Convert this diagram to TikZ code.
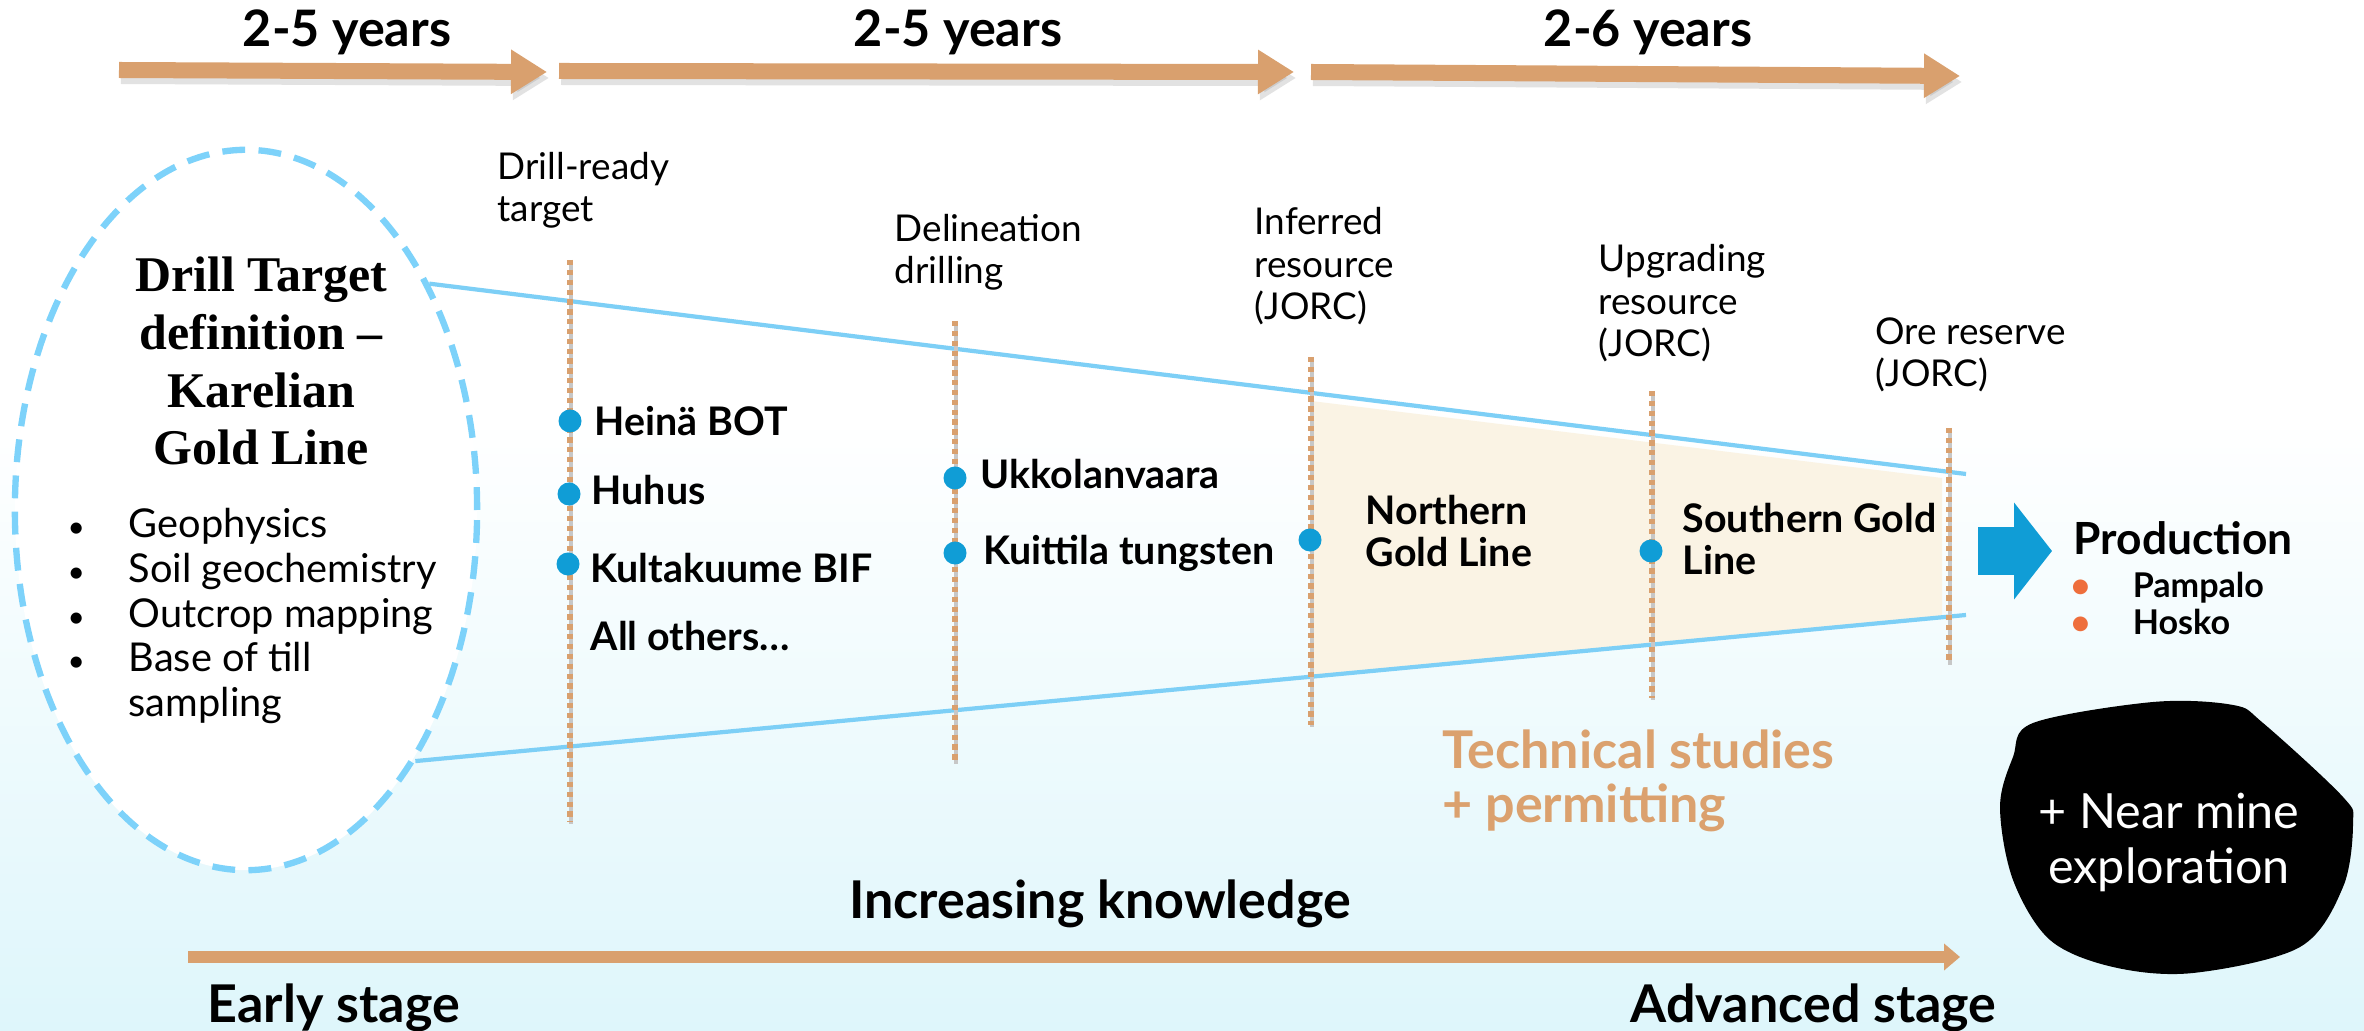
\documentclass[tikz,border=0pt]{standalone}
\usepackage{fontspec}
\newfontfamily\lato{Lato}
\newfontfamily\libserif{Liberation Serif}
\usetikzlibrary{arrows.meta,shapes.geometric}
\definecolor{tan}{RGB}{217,160,110}
\definecolor{lblue}{RGB}{125,207,246}
\definecolor{ellblue}{RGB}{125,210,250}
\definecolor{dotblue}{RGB}{16,157,214}
\definecolor{beige}{RGB}{250,243,228}
\definecolor{bgc}{RGB}{222,246,251}
\definecolor{bulor}{RGB}{238,110,60}
\definecolor{techor}{RGB}{219,161,110}
\newcommand{\smbul}{{\fontsize{8.5}{8.5}\selectfont\textbullet}}
\tikzset{
  yrs/.style={font=\lato\bfseries\fontsize{14.3}{16}\selectfont, anchor=base, inner sep=0},
  stagelab/.style={font=\lato\fontsize{10.5}{12.2}\selectfont, align=left, anchor=base west, inner sep=0},
  itemlab/.style={font=\lato\bfseries\fontsize{11.2}{12.1}\selectfont, align=left, anchor=base west, inner sep=0},
  bigtxt/.style={font=\lato\bfseries\fontsize{14.8}{15.1}\selectfont, inner sep=0},
  bdot/.style={circle, fill=dotblue, minimum size=0.23cm, inner sep=0},
  milestone/.style={draw=tan, line width=1.6pt, dash pattern=on 1.5pt off 1.3pt},
  mshadow/.style={draw=black!22, line width=1.4pt, transform canvas={xshift=0.01cm, yshift=-0.015cm}},
  blueline/.style={draw=lblue, line width=1.2pt},
  toparrow/.style={draw=tan, line width=0.16cm, -{Triangle[length=0.36cm,width=0.42cm]}},
  arrshadow/.style={draw=black!45, opacity=0.25, line width=0.16cm, -{Triangle[length=0.36cm,width=0.42cm]}, transform canvas={xshift=0.02cm, yshift=-0.06cm}},
}
\begin{document}
\begin{tikzpicture}[x=0.01cm,y=-0.01cm]
\useasboundingbox (0,0) rectangle (2364,1031);
% background
\fill[white] (0,0) rectangle (2364,1031);
\shade[top color=white, bottom color=bgc] (0,420) rectangle (2364,1031);

% coordinates
\coordinate (a1s) at (119,70);  \coordinate (a1e) at (547,72);
\coordinate (a2s) at (559,71);  \coordinate (a2e) at (1294,72);
\coordinate (a3s) at (1311,72); \coordinate (a3e) at (1960,76);
\coordinate (d1t) at (570,260);  \coordinate (d1b) at (570,822);
\coordinate (d2t) at (955,321);  \coordinate (d2b) at (955,762);
\coordinate (d3t) at (1311,357); \coordinate (d3b) at (1311,725);
\coordinate (d4t) at (1652,391); \coordinate (d4b) at (1652,698);
\coordinate (d5t) at (1949,428); \coordinate (d5b) at (1949,663);
\coordinate (upR) at (1966,474);
\coordinate (loR) at (1966,615);
\coordinate (pa1) at (1978,551); \coordinate (pa2) at (2052,551);
\coordinate (ka1) at (188,957);  \coordinate (ka2) at (1960,957);

% top arrows
\draw[arrshadow] (a1s) -- (a1e);
\draw[arrshadow] (a2s) -- (a2e);
\draw[arrshadow] (a3s) -- (a3e);
\draw[toparrow] (a1s) -- (a1e);
\draw[toparrow] (a2s) -- (a2e);
\draw[toparrow] (a3s) -- (a3e);
\node[yrs] (yr1) at (347,47) {2-5 years};
\node[yrs] (yr2) at (958,47) {2-5 years};
\node[yrs] (yr3) at (1648,47) {2-6 years};

% beige zone
\fill[beige] (1311,401) -- (1942,478) -- (1942,617) -- (1311,676) -- cycle;

% ellipse
\node[ellipse, draw=ellblue, fill=white, line width=1.8pt, dash pattern=on 6.5pt off 3.8pt,
      minimum width=4.62cm, minimum height=7.2cm, inner sep=0] (ell) at (246,510) {};
\node[font=\libserif\bfseries\fontsize{14.2}{16.4}\selectfont, align=center, anchor=base, inner sep=0]
  (title) at (261,465) {Drill Target\\definition –\\Karelian\\Gold Line};
\node[font=\lato\fontsize{11.3}{12.66}\selectfont, anchor=base west, inner sep=0] (methods) at (67,538)
  {\begin{tabular}[t]{@{}p{0.61cm}@{}l@{}}
   \smbul & Geophysics\\
   \smbul & Soil geochemistry\\
   \smbul & Outcrop mapping\\
   \smbul & Base of till\\
          & sampling
   \end{tabular}};

% blue funnel lines
\draw[blueline] (ell.51) -- (upR);
\draw[blueline] (ell.-56) -- (loR);

% milestone dotted lines
\foreach \i in {1,...,5} {
  \draw[mshadow] (d\i t) -- (d\i b);
  \draw[milestone] (d\i t) -- (d\i b);
}

% stage labels (anchored at the baseline of the last line)
\node[stagelab] (s1) at (497,222) {Drill-ready\\target};
\node[stagelab] (s2) at (894,284) {Delineation\\drilling};
\node[stagelab] (s3) at (1254,320) {Inferred\\resource\\(JORC)};
\node[stagelab] (s4) at (1598,357) {Upgrading\\resource\\(JORC)};
\node[stagelab] (s5) at (1875,387) {Ore reserve\\(JORC)};

% dots and items
\node[bdot] (p1) at (570,421) {};
\node[bdot] (p2) at (569,494) {};
\node[bdot] (p3) at (568,564) {};
\node[bdot] (p4) at (955,478) {};
\node[bdot] (p5) at (955,553) {};
\node[bdot] (p6) at (1310,540) {};
\node[bdot] (p7) at (1651,551) {};
\node[itemlab] (t1) at (594,436) {Heinä BOT};
\node[itemlab] (t2) at (591,505) {Huhus};
\node[itemlab] (t3) at (590,583) {Kultakuume BIF};
\node[itemlab] (t4) at (590,650) {All others…};
\node[itemlab] (t5) at (980,489) {Ukkolanvaara};
\node[itemlab] (t6) at (983,565) {Kuittila tungsten};
\node[itemlab] (t7) at (1365,567) {Northern\\Gold Line};
\node[itemlab] (t8) at (1682,575) {Southern Gold\\Line};

% production
\draw[draw=dotblue, line width=0.47cm, -{Triangle[length=0.38cm,width=0.95cm]}] (pa1) -- (pa2);
\node[font=\lato\bfseries\fontsize{12.6}{14}\selectfont, anchor=base west, inner sep=0] (prod) at (2073,555) {Production};
\node[font=\lato\bfseries\fontsize{9.7}{10.8}\selectfont, anchor=base west, inner sep=0] (mines) at (2070,597)
  {\begin{tabular}[t]{@{}p{0.62cm}@{}l@{}}
   \textcolor{bulor}{\textbullet} & Pampalo\\
   \textcolor{bulor}{\textbullet} & Hosko
   \end{tabular}};

% technical studies
\node[bigtxt, text=techor, align=left, anchor=base west] (tech) at (1442,822) {Technical studies\\+ permitting};

% near mine blob
\fill[black] plot[smooth cycle, tension=0.55] coordinates {(2033,723) (2153,702) (2233,705) (2263,723) (2343,797) (2353,823) (2343,887) (2300,947) (2193,973) (2113,967) (2050,940) (2013,880) (2000,807) (2013,757)};
\node[font=\lato\fontsize{13.8}{15.6}\selectfont, text=white, align=center, anchor=base, inner sep=0] (near) at (2169,883) {+ Near mine\\exploration};

% knowledge axis
\draw[draw=tan, line width=0.12cm, -{Triangle[length=0.16cm,width=0.26cm]}] (ka1) -- (ka2);
\node[bigtxt, anchor=base] (know) at (1100,918) {Increasing knowledge};
\node[bigtxt, anchor=base west] (early) at (207,1022) {Early stage};
\node[bigtxt, anchor=base west] (adv) at (1630,1022) {Advanced stage};
\end{tikzpicture}
\end{document}
